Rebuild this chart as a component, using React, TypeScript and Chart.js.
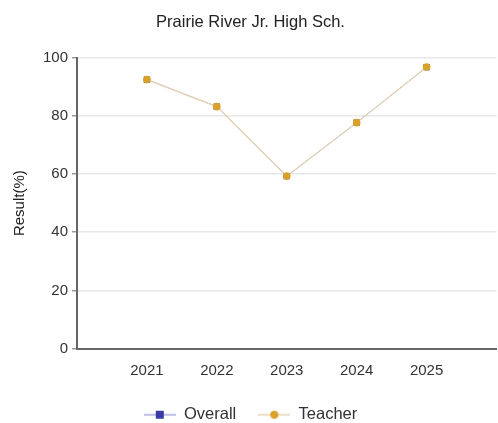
import React, { useEffect, useRef } from "react";
import { Chart, registerables } from "chart.js";

Chart.register(...registerables);

const TITLE = "Prairie River Jr. High Sch.";
const Y_TITLE = "Result(%)";
const YEARS = [2021, 2022, 2023, 2024, 2025];
const OVERALL = [92.5, 83.2, 59.3, 77.7, 96.8];
const TEACHER = [92.5, 83.2, 59.3, 77.7, 96.8];
const SERIES_NAMES = ["Overall", "Teacher"];
const Y_TICKS = [0, 20, 40, 60, 80, 100];

const OVERALL_COLOR = "#3a3aa8";
const OVERALL_LINE = "#a8a8dc";
const TEACHER_COLOR = "#d9a02a";
const TEACHER_LINE = "#e6d2b0";
const FONT = "Liberation Sans, Arial";

function legendIcon(lineColor: string, markColor: string, square: boolean) {
  const dpr = window.devicePixelRatio || 1;
  const w = 32, h = 10;
  const c = document.createElement("canvas");
  c.width = w * dpr;
  c.height = h * dpr;
  c.style.width = w + "px";
  c.style.height = h + "px";
  const ctx = c.getContext("2d")!;
  ctx.scale(dpr, dpr);
  ctx.strokeStyle = lineColor;
  ctx.lineWidth = 1.5;
  ctx.beginPath();
  ctx.moveTo(0, h / 2);
  ctx.lineTo(w, h / 2);
  ctx.stroke();
  ctx.fillStyle = markColor;
  if (square) {
    ctx.fillRect(w / 2 - 4, h / 2 - 4, 8, 8);
  } else {
    ctx.beginPath();
    ctx.arc(w / 2, h / 2, 4, 0, Math.PI * 2);
    ctx.fill();
  }
  return c;
}

export default function App() {
  const ref = useRef<HTMLCanvasElement>(null);
  useEffect(() => {
    document.body.style.margin = "0";
    const icons = [
      legendIcon(OVERALL_LINE, OVERALL_COLOR, true),
      legendIcon(TEACHER_LINE, TEACHER_COLOR, false),
    ];
    const chart = new Chart(ref.current!, {
      type: "line",
      data: {
        datasets: [
          {
            label: SERIES_NAMES[0],
            data: YEARS.map((x, i) => ({ x, y: OVERALL[i] })),
            borderColor: OVERALL_LINE,
            borderWidth: 1,
            backgroundColor: OVERALL_COLOR,
            pointStyle: "rect",
            pointRadius: 4.5,
            pointBorderWidth: 0,
            pointBackgroundColor: OVERALL_COLOR,
            order: 1,
          },
          {
            label: SERIES_NAMES[1],
            data: YEARS.map((x, i) => ({ x, y: TEACHER[i] })),
            borderColor: TEACHER_LINE,
            borderWidth: 1.2,
            backgroundColor: TEACHER_COLOR,
            pointStyle: "circle",
            pointRadius: 3.8,
            pointBorderWidth: 0,
            pointBackgroundColor: TEACHER_COLOR,
            order: 0,
          },
        ],
      },
      options: {
        animation: false,
        responsive: false,
        maintainAspectRatio: false,
        layout: { padding: { left: 0, right: 0, top: 0, bottom: 2 } },
        plugins: {
          title: {
            display: true,
            text: TITLE,
            color: "#222",
            font: { family: FONT, size: 16.5, weight: "normal" },
            padding: { top: 13, bottom: 25 },
          },
          legend: {
            position: "bottom",
            labels: {
              usePointStyle: true,
              pointStyleWidth: 32,
              color: "#333",
              font: { family: FONT, size: 16.5 },
              padding: 22,
              generateLabels: () =>
                SERIES_NAMES.map((name, i) => ({
                  text: name,
                  pointStyle: icons[i] as any,
                  fillStyle: "transparent",
                  strokeStyle: "transparent",
                  lineWidth: 0,
                  hidden: false,
                  datasetIndex: i,
                  fontColor: "#333",
                })),
            },
          },
          tooltip: { enabled: false },
        },
        scales: {
          x: {
            type: "linear",
            min: YEARS[0] - 1,
            max: YEARS[YEARS.length - 1] + 1,
            afterBuildTicks: (axis: any) => {
              axis.ticks = YEARS.map((v) => ({ value: v }));
            },
            ticks: {
              color: "#333",
              font: { family: FONT, size: 15 },
              callback: (v: any) => String(v),
              padding: 9,
              maxRotation: 0,
            },
            grid: { display: false, drawTicks: true, tickLength: 4, tickColor: "#999" },
            border: { display: true, color: "#666", width: 2 },
            afterFit: (axis: any) => {
              axis.height = 36;
            },
          },
          y: {
            min: 0,
            max: 100,
            afterBuildTicks: (axis: any) => {
              axis.ticks = Y_TICKS.map((v) => ({ value: v }));
            },
            ticks: {
              color: "#333",
              font: { family: FONT, size: 15 },
              padding: 4,
            },
            grid: { color: "#e8e8e8", lineWidth: 1.5, tickLength: 5, tickColor: "#999" },
            border: { display: true, color: "#666", width: 2 },
            title: {
              display: true,
              text: Y_TITLE,
              color: "#222",
              font: { family: FONT, size: 15 },
              padding: { top: 11, bottom: 0 },
            },
            afterFit: (axis: any) => {
              axis.width = 77;
            },
          },
        },
      },
    });
    return () => chart.destroy();
  }, []);
  return (
    <div style={{ width: 498, height: 423, overflow: "hidden", background: "#fff" }}>
      <canvas ref={ref} width={501} height={435} style={{ width: 501, height: 435 }} />
    </div>
  );
}
